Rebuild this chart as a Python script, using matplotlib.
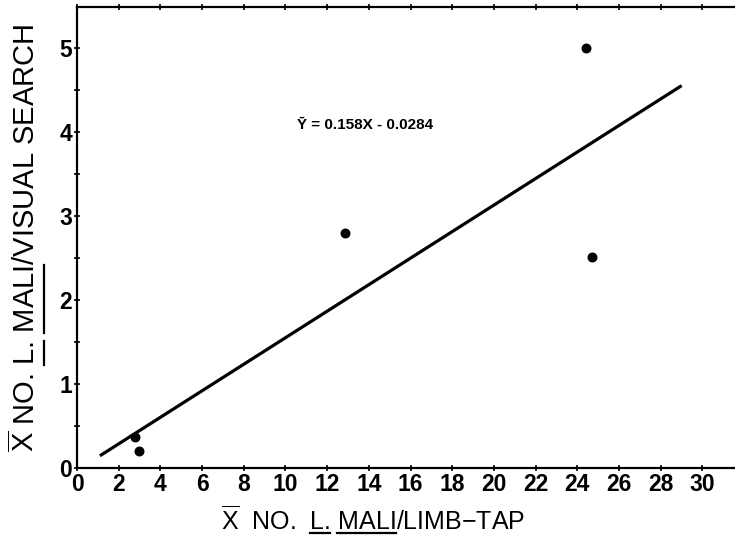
import numpy as np
import matplotlib
matplotlib.use("Agg")
import matplotlib.pyplot as plt
from matplotlib.lines import Line2D

# data
limb_tap = [2.78, 2.97, 12.85, 24.4, 24.7]
visual_search = [0.37, 0.20, 2.80, 5.00, 2.51]
slope = 0.158
intercept = -0.0284
fit_x = [1.1, 29.0]
x_ticks = list(range(0, 31, 2))
y_ticks = [0, 1, 2, 3, 4, 5]

plt.rcParams['font.family'] = ['Liberation Sans', 'DejaVu Sans']
plt.rcParams['mathtext.fontset'] = 'custom'
plt.rcParams['mathtext.rm'] = 'Liberation Sans'
plt.rcParams['mathtext.it'] = 'Liberation Sans'
plt.rcParams['mathtext.bf'] = 'Liberation Sans:bold'

W, H = 735, 542
fig = plt.figure(figsize=(W / 100, H / 100), dpi=100)
ax = fig.add_axes([77 / W, 74 / H, 1 - 77 / W, (468 - 7) / H])

ax.scatter(limb_tap, visual_search, s=38, color='black', zorder=3)
fx = np.array(fit_x)
ax.plot(fx, slope * fx + intercept, color='black', lw=2.3, solid_capstyle='butt')

ax.set_xlim(0, 31.56)
ax.set_ylim(0, 5.49)
ax.set_xticks(x_ticks)
ax.set_yticks(y_ticks)
ax.set_yticks(np.arange(0.5, 5.5, 1.0), minor=True)
ax.tick_params(axis='both', which='both', direction='inout', length=5, width=1.2,
               labelsize=16.5, pad=1, top=True)
for lab in ax.get_xticklabels() + ax.get_yticklabels():
    lab.set_fontweight('bold')
ax.spines['right'].set_visible(False)
for s in ['left', 'bottom', 'top']:
    ax.spines[s].set_linewidth(1.6)

ax.text(13.8, 4.08, 'Ȳ = 0.158X - 0.0284', fontsize=11, fontweight='bold',
        ha='center', va='center')

# axis labels with underlined species name
xlab = r'$\overline{\mathrm{X}}$  NO.  L. MALI/LIMB$-$TAP'
ylab = r'$\overline{\mathrm{X}}$ NO. L. MALI/VISUAL SEARCH'
tx = fig.text(373 / W, 12 / H, xlab, fontsize=18, ha='center', va='baseline')
ty = fig.text(35 / W, (H - 238) / H, ylab, fontsize=21, ha='center', va='baseline',
              rotation=90, rotation_mode='anchor')

fig.canvas.draw()
r = fig.canvas.get_renderer()


def text_w(t, s):
    # pad with a bar so trailing spaces are counted
    prop = t.get_fontproperties()
    full = r.get_text_width_height_descent(s + '|', prop, ismath=('$' in s))[0]
    bar = r.get_text_width_height_descent('|', prop, ismath=False)[0]
    return full - bar


def underline(t, words, vertical):
    s = t.get_text()
    bb = t.get_window_extent(r)
    start = bb.y0 if vertical else bb.x0
    for w in words:
        i = s.index(w)
        a = start + text_w(t, s[:i])
        b = start + text_w(t, s[:i + len(w)])
        if vertical:
            xs = [bb.x1 + 3, bb.x1 + 3]
            ys = [a, b]
        else:
            xs = [a, b]
            ys = [9, 9]
        fig.add_artist(Line2D(np.array(xs) / W, np.array(ys) / H, color='black', lw=1.6,
                              transform=fig.transFigure))


underline(tx, ['L.', 'MALI'], False)
underline(ty, ['L.', 'MALI'], True)

fig.savefig('out.png', dpi=100)
